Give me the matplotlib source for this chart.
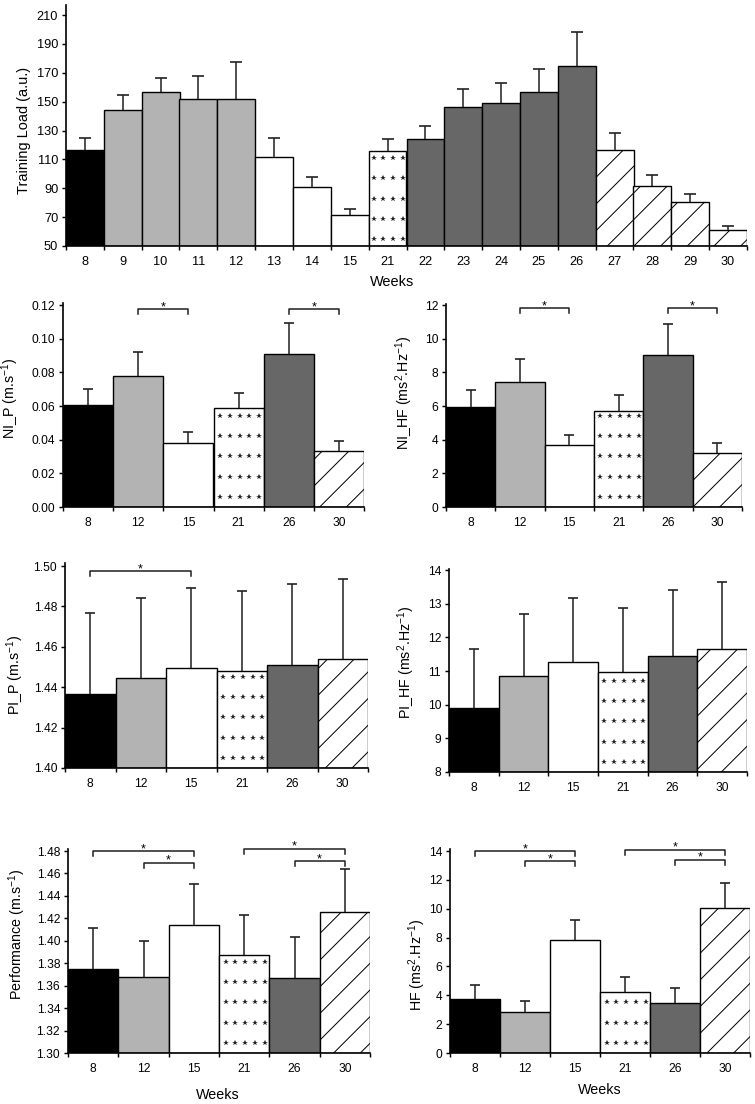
import matplotlib
matplotlib.use("Agg")
import matplotlib.pyplot as plt
from matplotlib import font_manager
import numpy as np

# ---------------- data ----------------
top_weeks = ["8", "9", "10", "11", "12", "13", "14", "15", "21",
             "22", "23", "24", "25", "26", "27", "28", "29", "30"]
top_phase = ["T0", "T1", "T1", "T1", "T1", "T2", "T2", "T2", "T3",
             "T4", "T4", "T4", "T4", "T4", "T5", "T5", "T5", "T5"]
load_mean = [116.5, 144.0, 156.4, 152.0, 151.6, 111.9, 90.9, 71.5, 115.8,
             124.4, 146.0, 148.8, 156.5, 174.5, 116.5, 91.3, 80.3, 60.9]
load_sd = [8.1, 10.8, 10.0, 15.8, 26.1, 12.9, 6.6, 4.1, 8.6,
           8.7, 12.5, 14.4, 15.9, 23.8, 12.0, 7.7, 5.5, 3.2]

weeks = ["8", "12", "15", "21", "26", "30"]
phase = ["T0", "T1", "T2", "T3", "T4", "T5"]

ni_p_mean = [0.0605, 0.0778, 0.0381, 0.0587, 0.0910, 0.0333]
ni_p_sd = [0.0095, 0.0144, 0.0065, 0.0093, 0.0181, 0.0060]

ni_hf_mean = [5.97, 7.45, 3.68, 5.71, 9.01, 3.20]
ni_hf_sd = [0.99, 1.36, 0.57, 0.95, 1.84, 0.59]

pi_p_mean = [1.4365, 1.4446, 1.4493, 1.4479, 1.4512, 1.4538]
pi_p_sd = [0.0400, 0.0398, 0.0398, 0.0396, 0.0398, 0.0396]

pi_hf_mean = [9.90, 10.84, 11.28, 10.97, 11.46, 11.65]
pi_hf_sd = [1.74, 1.84, 1.90, 1.90, 1.95, 1.99]

perf_mean = [1.375, 1.368, 1.414, 1.387, 1.367, 1.426]
perf_sd = [0.036, 0.032, 0.037, 0.036, 0.036, 0.038]

hf_mean = [3.76, 2.84, 7.84, 4.24, 3.44, 10.08]
hf_sd = [0.94, 0.76, 1.36, 1.00, 1.08, 1.73]

# significance brackets: (bar index a, bar index b, level)
ni_p_sig = [(1, 2, 0.1176), (4, 5, 0.1176)]
ni_hf_sig = [(1, 2, 11.8), (4, 5, 11.8)]
pi_p_sig = [(0, 2, 1.4974)]
pi_hf_sig = []
perf_sig = [(0, 2, 1.480), (1, 2, 1.4696), (3, 5, 1.482), (4, 5, 1.471)]
hf_sig = [(0, 2, 14.0), (1, 2, 13.3), (3, 5, 14.1), (4, 5, 13.4)]

# ---------------- style ----------------
DPI = 80
W, H = 755, 1104
names = {f.name for f in font_manager.fontManager.ttflist}
BASE = "Liberation Sans" if "Liberation Sans" in names else "DejaVu Sans"
NARROW = "Liberation Sans Narrow" if "Liberation Sans Narrow" in names else BASE

plt.rcParams["font.family"] = [BASE, "DejaVu Sans"]
plt.rcParams["mathtext.default"] = "regular"
plt.rcParams["hatch.linewidth"] = 0.9
plt.rcParams["hatch.color"] = "black"

STYLE = {
    "T0": dict(color="#000000", hatch=None),
    "T1": dict(color="#b3b3b3", hatch=None),
    "T2": dict(color="#ffffff", hatch=None),
    "T3": dict(color="#ffffff", hatch=None),
    "T4": dict(color="#676767", hatch=None),
    "T5": dict(color="#ffffff", hatch="/"),
}

fig = plt.figure(figsize=(W / DPI, H / DPI), dpi=DPI)
fig.patch.set_facecolor("white")


def add_ax(l, t, r, b):
    return fig.add_axes([l / W, 1 - b / H, (r - l) / W, (b - t) / H])


def panel(box, labels, phases, mean, sd, ylim, yticks, yfmt, ylabel,
          ylabel_xy, sig=(), xlabel=None, xlabel_xy=None,
          star_cols=5, star_off=10.0, tick_font=BASE, tick_size=10.8,
          label_size=12.8, cap=4.5):
    ax = add_ax(*box)
    axh_px = box[3] - box[1]
    dpp = (ylim[1] - ylim[0]) / axh_px
    n = len(mean)
    x = np.arange(n)
    lo = ylim[0]
    heights = [m - lo for m in mean]
    for i in range(n):
        st = STYLE[phases[i]]
        ax.bar(x[i], heights[i], width=1.0, bottom=lo, color=st["color"],
               edgecolor="black", linewidth=1.25, hatch=st["hatch"], zorder=2)
        if phases[i] == "T3":
            xs_f = 0.13 + 0.78 * np.arange(star_cols) / (star_cols - 1)
            xs = x[i] - 0.5 + xs_f
            bar_px = heights[i] / dpp
            k = 0
            while star_off + 20.3 * k <= bar_px - 4:
                yy = lo + (star_off + 20.3 * k) * dpp
                ax.plot(xs, [yy] * star_cols, linestyle="none",
                        marker="*", ms=5.2, mew=0, color="#222222",
                        zorder=3)
                k += 1
    eb = ax.errorbar(x, mean, yerr=[np.zeros(n), sd], fmt="none",
                     ecolor="#222222", elinewidth=1.4, capsize=cap,
                     capthick=1.5, zorder=4)
    caplines = eb[1]
    if len(caplines) == 2:
        caplines[0].set_visible(False)
    for a, b, lev in sig:
        drop = 5 * dpp
        ax.plot([x[a], x[a], x[b], x[b]], [lev - drop, lev, lev, lev - drop],
                color="#222222", lw=1.4, clip_on=False, zorder=5)
        ax.annotate("*", xy=((x[a] + x[b]) / 2, lev), xytext=(0, -1.0),
                    textcoords="offset points", ha="center", va="baseline",
                    fontsize=11.5, annotation_clip=False)
    ax.set_xlim(-0.5, n - 0.5)
    ax.set_ylim(*ylim)
    ax.set_yticks(yticks)
    ax.set_yticklabels([yfmt.format(v) for v in yticks], fontsize=tick_size,
                       family=tick_font)
    ax.set_xticks(np.arange(n + 1) - 0.5)
    ax.set_xticklabels([])
    ax.set_xticks(x, minor=True)
    ax.set_xticklabels(labels, minor=True, fontsize=tick_size, family=tick_font)
    ax.tick_params(axis="x", which="minor", length=0, pad=9)
    ax.tick_params(axis="x", which="major", length=4, width=1.3, direction="out")
    ax.tick_params(axis="y", length=4, width=1.3, direction="out", pad=3)
    for s in ("top", "right"):
        ax.spines[s].set_visible(False)
    for s in ("left", "bottom"):
        ax.spines[s].set_linewidth(1.5)
    ax.set_ylabel(ylabel, fontsize=label_size)
    ax.yaxis.set_label_coords(*ylabel_xy)
    if xlabel:
        ax.set_xlabel(xlabel, fontsize=label_size)
        ax.xaxis.set_label_coords(*xlabel_xy)
    return ax


# top panel
panel((66, 5, 747, 246), top_weeks, top_phase, load_mean, load_sd,
      (50, 217), np.arange(50, 211, 20), "{:.0f}", "Training Load (a.u.)",
      (-0.051, 0.48), xlabel="Weeks", xlabel_xy=(0.479, -0.12),
      star_cols=4, star_off=6.7, tick_font=NARROW, tick_size=11.5,
      label_size=13, cap=5)

panel((63, 303, 364, 507), weeks, phase, ni_p_mean, ni_p_sd,
      (0, 0.1212), np.arange(0, 0.121, 0.02), "{:.2f}",
      "NI_P (m.s$^{-1}$)", (-0.14, 0.53), sig=ni_p_sig)

panel((446, 304, 742, 507), weeks, phase, ni_hf_mean, ni_hf_sd,
      (0, 12.06), np.arange(0, 12.1, 2), "{:.0f}",
      "NI_HF (ms$^{2}$.Hz$^{-1}$)", (-0.105, 0.56), sig=ni_hf_sig)

panel((65, 563, 368, 768), weeks, phase, pi_p_mean, pi_p_sd,
      (1.40, 1.5015), np.arange(1.40, 1.501, 0.02), "{:.2f}",
      "PI_P (m.s$^{-1}$)", (-0.128, 0.455), sig=pi_p_sig)

panel((449, 569, 747, 772), weeks, phase, pi_hf_mean, pi_hf_sd,
      (8, 14.03), np.arange(8, 14.1, 1), "{:.0f}",
      "PI_HF (ms$^{2}$.Hz$^{-1}$)", (-0.108, 0.54), sig=pi_hf_sig)

panel((68, 849, 370, 1053), weeks, phase, perf_mean, perf_sd,
      (1.30, 1.4818), np.arange(1.30, 1.481, 0.02), "{:.2f}",
      "Performance (m.s$^{-1}$)", (-0.132, 0.58), sig=perf_sig,
      xlabel="Weeks", xlabel_xy=(0.497, -0.173))

panel((450, 849, 750, 1053), weeks, phase, hf_mean, hf_sd,
      (0, 14.14), np.arange(0, 14.1, 2), "{:.0f}",
      "HF (ms$^{2}$.Hz$^{-1}$)", (-0.075, 0.43), sig=hf_sig,
      xlabel="Weeks", xlabel_xy=(0.5, -0.149))

fig.savefig("out.png", dpi=DPI, facecolor="white")
